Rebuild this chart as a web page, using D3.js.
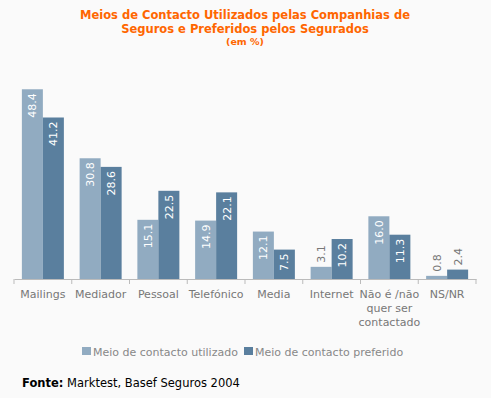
<!DOCTYPE html>
<html>
<head>
<meta charset="utf-8">
<script src="https://cdn.jsdelivr.net/npm/d3@7"></script>
<style>
  body { margin: 0; background: #fafafa; }
  svg { display: block; font-family: "DejaVu Sans", Verdana, sans-serif; }
</style>
</head>
<body>
<div id="chart"></div>
<script>
// data
var categories = ["Mailings", "Mediador", "Pessoal", "Telefónico", "Media", "Internet", "Não é /não|quer ser|contactado", "NS/NR"]
var utilizado = [48.4, 30.8, 15.1, 14.9, 12.1, 3.1, 16.0, 0.8]
var preferido = [41.2, 28.6, 22.5, 22.1, 7.5, 10.2, 11.3, 2.4]
var seriesNames = ["Meio de contacto utilizado", "Meio de contacto preferido"]
var colors = ["#91abc1", "#5a7f9e"]

var width = 491, height = 398

var svg = d3.select("#chart").append("svg")
	.attr("width", width)
	.attr("height", height)

svg.append("rect").attr("width", width).attr("height", height).attr("fill", "#fafafa")

// title
var title = svg.append("g")
	.attr("fill", "#ff6600")
	.attr("font-weight", "bold")
	.attr("text-anchor", "middle")

title.append("text").attr("x", 245).attr("y", 19).attr("font-size", 11.5)
	.text("Meios de Contacto Utilizados pelas Companhias de")
title.append("text").attr("x", 245).attr("y", 33).attr("font-size", 11.5)
	.text("Seguros e Preferidos pelos Segurados")
title.append("text").attr("x", 245).attr("y", 45).attr("font-size", 9.5)
	.text("(em %)")

var x = d3.scaleBand()
	.domain(categories)
	.range([14, 476])
	.paddingInner(0)
	.paddingOuter(0)

var barW = 21
var inner = (x.bandwidth() - 2 * barW) / 2

var y = d3.scaleLinear()
	.domain([0, 50])
	.range([279, 83])

var rows = categories.map(function(c, i) {
	return { cat: c, vals: [utilizado[i], preferido[i]] }
})

var groups = svg.append("g")
	.selectAll("g")
	.data(rows)
	.join("g")
	.attr("transform", d => "translate(" + (x(d.cat) + inner) + ",0)")

groups.selectAll("rect")
	.data(d => d.vals.map((v, k) => ({ v: v, k: k })))
	.join("rect")
	.attr("x", d => d.k * barW)
	.attr("y", d => y(d.v))
	.attr("width", barW)
	.attr("height", d => y(0) - y(d.v))
	.attr("fill", d => colors[d.k])

// value labels, rotated, inside the bar when it fits
var fits = d => (y(0) - y(d.v)) > 22

groups.selectAll("text")
	.data(d => d.vals.map((v, k) => ({ v: v, k: k })))
	.join("text")
	.attr("font-size", 11)
	.attr("fill", d => fits(d) ? "#ffffff" : "#777777")
	.attr("text-anchor", d => fits(d) ? "end" : "start")
	.attr("transform", function(d) {
		var cx = d.k * barW + barW / 2 + 4
		var cy = fits(d) ? y(d.v) + 4 : y(d.v) - 4
		return "translate(" + cx + "," + cy + ") rotate(-90)"
	})
	.text(d => d.v.toFixed(1))

// axis
var axis = svg.append("g")
	.attr("transform", "translate(0,279)")
	.call(d3.axisBottom(x).tickSize(0).tickFormat(""))

axis.select(".domain").attr("stroke", "#bbbbbb")

svg.append("g")
	.selectAll("line")
	.data(categories.concat([null]))
	.join("line")
	.attr("x1", (d, i) => i < categories.length ? x(d) : x.range()[1])
	.attr("x2", (d, i) => i < categories.length ? x(d) : x.range()[1])
	.attr("y1", 279)
	.attr("y2", 284)
	.attr("stroke", "#bbbbbb")

// category labels
var labels = svg.append("g")
	.attr("fill", "#777777")
	.attr("font-size", 11)
	.attr("text-anchor", "middle")
	.selectAll("text")
	.data(categories)
	.join("text")
	.attr("x", d => x(d) + x.bandwidth() / 2)
	.attr("y", 298)

labels.selectAll("tspan")
	.data(d => d.split("|"))
	.join("tspan")
	.attr("x", function() { return this.parentNode.getAttribute("x") })
	.attr("dy", (d, i) => i == 0 ? 0 : 14)
	.text(d => d)

// legend
var legend = svg.append("g")
	.attr("font-size", 11)
	.attr("fill", "#888888")

var lx = [82, 244]
seriesNames.forEach(function(s, i) {
	legend.append("rect")
		.attr("x", lx[i]).attr("y", 347)
		.attr("width", 9).attr("height", 8)
		.attr("fill", colors[i])
	legend.append("text")
		.attr("x", lx[i] + 11).attr("y", 356)
		.text(s)
})

// source
var src = svg.append("text")
	.attr("x", 22).attr("y", 387)
	.attr("font-size", 11.5)
	.attr("fill", "#000")
src.append("tspan").attr("font-weight", "bold").text("Fonte:")
src.append("tspan").text(" Marktest, Basef Seguros 2004")
</script>
</body>
</html>
